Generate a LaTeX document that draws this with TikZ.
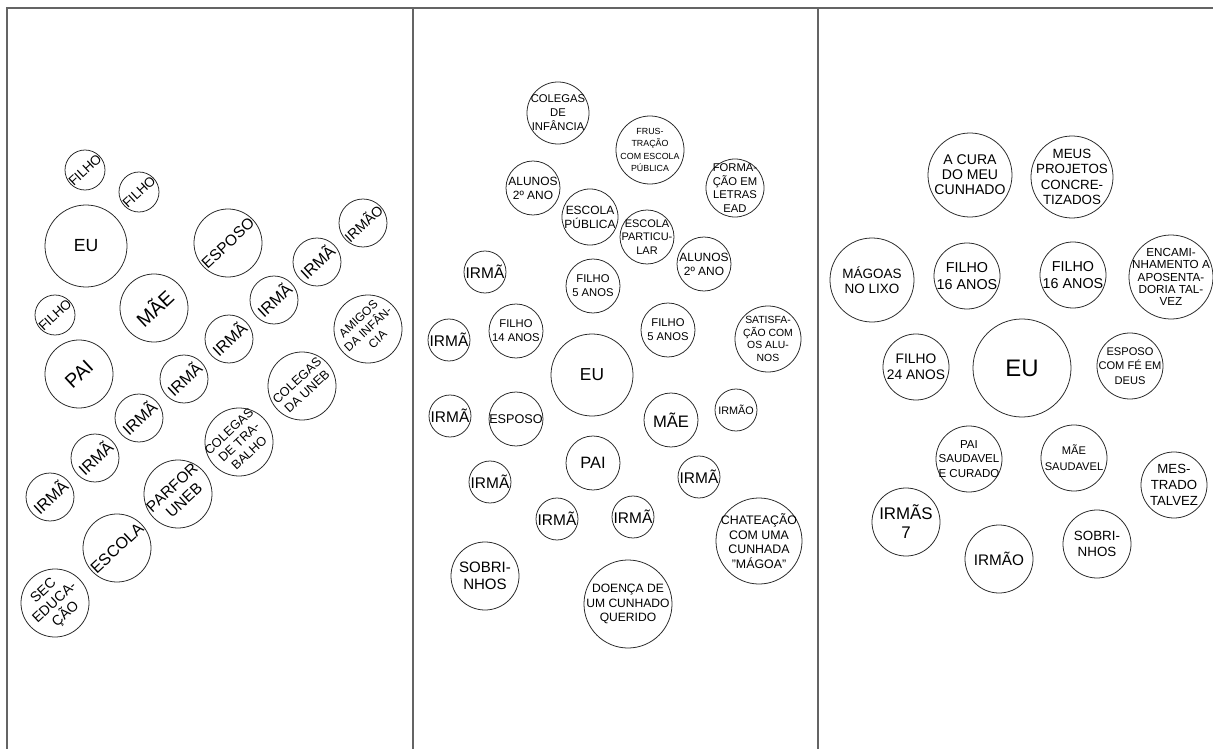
\documentclass[tikz,border=0pt]{standalone}
\usepackage{fontspec}
\setmainfont{Liberation Sans}
\usepackage{tikz}
\definecolor{rulegray}{RGB}{100,100,100}
\definecolor{ringgray}{RGB}{40,40,40}

\begin{document}
\begin{tikzpicture}[x=0.025cm, y=-0.025cm,
    bub/.style={circle, draw=ringgray, line width=0.55pt, minimum size=#1*0.05cm, inner sep=0pt},
    txt/.style 2 args={font=\fontsize{#1}{#2}\selectfont, align=center, inner sep=0pt},
    rot/.style={rotate=43},
    sep/.style={draw=rulegray, line width=0.75pt},
]
    \useasboundingbox (0,0) rectangle (1213,749);

    % panel frames
    \draw[sep] (7,749) -- (7,8) -- (1213,8);
    \draw[sep] (413,8) -- (413,749);
    \draw[sep] (818,8) -- (818,749);

    % panel 1
    \node[bub=20, label={[txt={9.5}{11},rot]center:FILHO}] (filho1a) at (85,170) {};
    \node[bub=20, label={[txt={9.5}{11},rot]center:FILHO}] (filho1b) at (139,192) {};
    \node[bub=41, label={[txt={12.5}{14}]center:EU}] (eu1) at (86,246) {};
    \node[bub=34, label={[txt={11}{13},rot]center:ESPOSO}] (esposo1) at (228,243) {};
    \node[bub=24, label={[txt={10}{12},rot]center:IRMÃO}] (irmao1) at (363,223) {};
    \node[bub=24, label={[txt={11.5}{13},rot]center:IRMÃ}] (irma1a) at (317,262) {};
    \node[bub=24, label={[txt={11.5}{13},rot]center:IRMÃ}] (irma1b) at (274,300) {};
    \node[bub=24, label={[txt={11.5}{13},rot]center:IRMÃ}] (irma1c) at (229,339) {};
    \node[bub=24, label={[txt={11.5}{13},rot]center:IRMÃ}] (irma1d) at (184,379) {};
    \node[bub=24, label={[txt={11.5}{13},rot]center:IRMÃ}] (irma1e) at (139,418) {};
    \node[bub=24, label={[txt={11.5}{13},rot]center:IRMÃ}] (irma1f) at (95,458) {};
    \node[bub=24, label={[txt={11.5}{13},rot]center:IRMÃ}] (irma1g) at (50,497) {};
    \node[bub=34, label={[txt={14}{16},rot]center:MÃE}] (mae1) at (154,308) {};
    \node[bub=20, label={[txt={9.5}{11},rot]center:FILHO}] (filho1c) at (55,315) {};
    \node[bub=34, label={[txt={8.5}{10},rot]center:{AMIGOS\\DA INFÂN-\\CIA}}] (amigos1) at (368,329) {};
    \node[bub=34, label={[txt={14}{16},rot]center:PAI}] (pai1) at (79,374) {};
    \node[bub=34, label={[txt={9}{10.5},rot]center:{COLEGAS\\DA UNEB}}] (uneb1) at (302,386) {};
    \node[bub=34, label={[txt={9}{10.5},rot]center:{COLEGAS\\DE TRA-\\BALHO}}] (trab1) at (239,442) {};
    \node[bub=34, label={[txt={11}{12.5},rot]center:{PARFOR\\UNEB}}] (parfor1) at (178,494) {};
    \node[bub=34, label={[txt={11.5}{13},rot]center:ESCOLA}] (escola1) at (117,548) {};
    \node[bub=34, label={[txt={10}{11.5},rot]center:{SEC\\EDUCA-\\ÇÃO}}] (sec1) at (55,603) {};

    % panel 2
    \node[bub=31, label={[txt={8}{10}]center:{COLEGAS\\DE\\INFÂNCIA}}] (infancia2) at (558,113) {};
    \node[bub=34, label={[txt={6.3}{8.7}]center:{FRUS-\\TRAÇÃO\\COM ESCOLA\\PÚBLICA}}] (frust2) at (650,150) {};
    \node[bub=29, label={[txt={8}{9.8}]center:{FORMA-\\ÇÃO EM\\LETRAS\\EAD}}] (formacao2) at (735,188) {};
    \node[bub=27, label={[txt={8.5}{10}]center:{ALUNOS\\2º ANO}}] (alunos2a) at (533,188) {};
    \node[bub=28, label={[txt={8.5}{10}]center:{ESCOLA\\PÚBLICA}}] (publica2) at (590,217) {};
    \node[bub=27, label={[txt={7.8}{9.5}]center:{ESCOLA\\PARTICU-\\LAR}}] (particular2) at (647,237) {};
    \node[bub=27, label={[txt={8.5}{10}]center:{ALUNOS\\2º ANO}}] (alunos2b) at (704,264) {};
    \node[bub=21, label={[txt={11}{13}]center:IRMÃ}] (irma2a) at (485,272) {};
    \node[bub=27, label={[txt={8}{10}]center:{FILHO\\5 ANOS}}] (filho2a) at (593,286) {};
    \node[bub=21, label={[txt={11}{13}]center:IRMÃ}] (irma2b) at (449,340) {};
    \node[bub=27, label={[txt={8}{10}]center:{FILHO\\14 ANOS}}] (filho2b) at (516,331) {};
    \node[bub=27, label={[txt={8}{10}]center:{FILHO\\5 ANOS}}] (filho2c) at (668,330) {};
    \node[bub=33, label={[txt={7.4}{9}]center:{SATISFA-\\ÇÃO COM\\OS ALU-\\NOS}}] (satisf2) at (768,339) {};
    \node[bub=41, label={[txt={12.3}{14}]center:EU}] (eu2) at (592,375) {};
    \node[bub=21, label={[txt={11}{13}]center:IRMÃ}] (irma2c) at (450,416) {};
    \node[bub=27, label={[txt={9}{10.5}]center:ESPOSO}] (esposo2) at (516,419) {};
    \node[bub=27, label={[txt={11.8}{13.5}]center:MÃE}] (mae2) at (671,420) {};
    \node[bub=21, label={[txt={7.7}{9}]center:IRMÃO}] (irmao2) at (736,410) {};
    \node[bub=27, label={[txt={11.7}{13.5}]center:PAI}] (pai2) at (593,463) {};
    \node[bub=21, label={[txt={11}{13}]center:IRMÃ}] (irma2d) at (490,482) {};
    \node[bub=21, label={[txt={11}{13}]center:IRMÃ}] (irma2e) at (699,477) {};
    \node[bub=21, label={[txt={11}{13}]center:IRMÃ}] (irma2f) at (557,519) {};
    \node[bub=21, label={[txt={11}{13}]center:IRMÃ}] (irma2g) at (633,517) {};
    \node[bub=43, label={[txt={8.8}{10.3}]center:{CHATEAÇÃO\\COM UMA\\CUNHADA\\"MÁGOA"}}] (chateacao2) at (759,541) {};
    \node[bub=34, label={[txt={10.7}{12.5}]center:{SOBRI-\\NHOS}}] (sobrinhos2) at (485,576) {};
    \node[bub=44, label={[txt={8.6}{10.3}]center:{DOENÇA DE\\UM CUNHADO\\QUERIDO}}] (doenca2) at (628,604) {};

    % panel 3
    \node[bub=42, label={[txt={10}{10.7}]center:{A CURA\\DO MEU\\CUNHADO}}] (cura3) at (970,175) {};
    \node[bub=41, label={[txt={9.5}{11}]center:{MEUS\\PROJETOS\\CONCRE-\\TIZADOS}}] (projetos3) at (1072,177) {};
    \node[bub=42, label={[txt={9.6}{11}]center:{MÁGOAS\\NO LIXO}}] (magoas3) at (872,280) {};
    \node[bub=33, label={[txt={10.2}{11.8}]center:{FILHO\\16 ANOS}}] (filho3a) at (967,276) {};
    \node[bub=33, label={[txt={10.2}{11.8}]center:{FILHO\\16 ANOS}}] (filho3b) at (1073,275) {};
    \node[bub=42, label={[txt={8.3}{8.8}]center:{ENCAMI-\\NHAMENTO A\\APOSENTA-\\DORIA TAL-\\VEZ}}] (aposenta3) at (1171,277) {};
    \node[bub=33, label={[txt={9.8}{11.5}]center:{FILHO\\24 ANOS}}] (filho3c) at (916,367) {};
    \node[bub=49, label={[txt={17}{19}]center:EU}] (eu3) at (1022,368) {};
    \node[bub=33, label={[txt={7.9}{10.3}]center:{ESPOSO\\COM FÉ EM\\DEUS}}] (esposo3) at (1130,366) {};
    \node[bub=33, label={[txt={8.2}{10.5}]center:{PAI\\SAUDAVEL\\E CURADO}}] (pai3) at (969,459) {};
    \node[bub=33, label={[txt={7.9}{11.5}]center:{MÃE\\SAUDAVEL}}] (mae3) at (1074,458) {};
    \node[bub=33, label={[txt={9.4}{11.2}]center:{MES-\\TRADO\\TALVEZ}}] (mestrado3) at (1174,485) {};
    \node[bub=34, label={[txt={12}{13.5}]center:{IRMÃS\\7}}] (irmas3) at (906,522) {};
    \node[bub=34, label={[txt={10.9}{12.5}]center:IRMÃO}] (irmao3) at (999,559) {};
    \node[bub=34, label={[txt={9.5}{11}]center:{SOBRI-\\NHOS}}] (sobrinhos3) at (1097,544) {};
\end{tikzpicture}
\end{document}
